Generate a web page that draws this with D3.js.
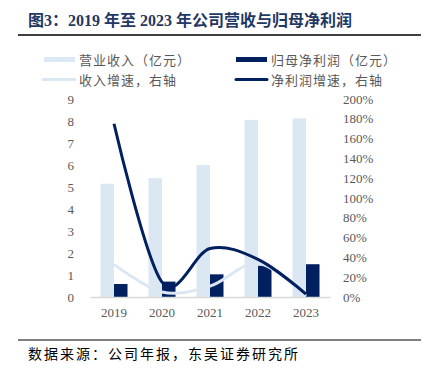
<!DOCTYPE html>
<html><head><meta charset="utf-8">
<script src="https://cdn.jsdelivr.net/npm/d3@7"></script>
<style>body{margin:0;background:#fff}svg{display:block}</style>
</head><body>
<svg id="c" width="435" height="368"></svg>
<script>
const years = ["2019","2020","2021","2022","2023"];
const revenue = [5.15, 5.4, 6.0, 8.05, 8.12];
const netProfit = [0.59, 0.70, 1.03, 1.42, 1.49];
const revenueGrowth = [33, 5, 11, 34, 1];
const profitGrowth = [175, 15, 49, 38, 3];
const leftTicks = [0,1,2,3,4,5,6,7,8,9];
const rightTicks = [0,20,40,60,80,100,120,140,160,180,200];
const titleText = "图3：2019 年至 2023 年公司营收与归母净利润";
const sourceText = "数据来源：公司年报，东吴证券研究所";
const legendLabels = ["营业收入（亿元）","归母净利润（亿元）","收入增速，右轴","净利润增速，右轴"];

const svg = d3.select("#c");
const cLight = "#dce7f4", cNavy = "#00205f", cGray = "#595959";
const serif = "'Liberation Serif','DejaVu Serif',serif";
const cjk = "'Noto Sans CJK SC','Noto Sans',sans-serif";

const x = d3.scaleBand().domain(years).range([90, 330]).padding(0);
const yL = d3.scaleLinear().domain([0, 9]).range([297, 99]);
const yR = d3.scaleLinear().domain([0, 200]).range([297, 99]);
const bw = 13.5;

// title
svg.append("text").attr("x", 28).attr("y", 26)
  .attr("font-family", "'Liberation Serif','Noto Sans CJK SC',serif")
  .attr("font-weight", "bold").attr("font-size", 16).attr("fill", "#1f3864")
  .text(titleText);
svg.append("line").attr("x1", 18).attr("x2", 421).attr("y1", 35).attr("y2", 35)
  .attr("stroke", "#000").attr("stroke-width", 1.5);

// legend
const lg = svg.append("g").attr("font-family", cjk).attr("font-size", 13).attr("fill", cGray);
lg.append("rect").attr("x", 44).attr("y", 57).attr("width", 31).attr("height", 5).attr("fill", cLight);
lg.append("rect").attr("x", 236).attr("y", 57).attr("width", 31).attr("height", 5).attr("fill", cNavy);
lg.append("line").attr("x1", 43).attr("x2", 75).attr("y1", 79.5).attr("y2", 79.5).attr("stroke", cLight).attr("stroke-width", 3).attr("stroke-linecap","round");
lg.append("line").attr("x1", 236).attr("x2", 267).attr("y1", 79.5).attr("y2", 79.5).attr("stroke", cNavy).attr("stroke-width", 3).attr("stroke-linecap","round");
const lpos = [[79,64.5],[271,64.5],[79,84.5],[271,84.5]];
legendLabels.forEach((t,i)=>{
  lg.append("text").attr("x", lpos[i][0]).attr("y", lpos[i][1]).attr("letter-spacing", 1).text(t);
});

// axes
const axL = svg.append("g").attr("transform", "translate(90,0)")
  .call(d3.axisLeft(yL).tickValues(leftTicks).tickSize(0).tickPadding(16).tickFormat(d3.format("d")));
const axR = svg.append("g").attr("transform", "translate(330,0)")
  .call(d3.axisRight(yR).tickValues(rightTicks).tickSize(0).tickPadding(13).tickFormat(d => d + "%"));
[axL, axR].forEach(a => {
  a.select(".domain").remove();
  a.selectAll("text").attr("font-family", serif).attr("font-size", 13).attr("fill", cGray);
});

// bars
svg.append("g").selectAll("rect").data(years).join("rect")
  .attr("x", (d) => x(d) + x.bandwidth()/2 - bw)
  .attr("y", (d,i) => yL(revenue[i]))
  .attr("width", bw).attr("height", (d,i) => yL(0) - yL(revenue[i]))
  .attr("fill", cLight);
svg.append("g").selectAll("rect").data(years).join("rect")
  .attr("x", (d) => x(d) + x.bandwidth()/2)
  .attr("y", (d,i) => yL(netProfit[i]))
  .attr("width", bw).attr("height", (d,i) => yL(0) - yL(netProfit[i]))
  .attr("fill", cNavy);

// x axis
const axB = svg.append("g").attr("transform", "translate(0,297)")
  .call(d3.axisBottom(x).tickSize(0).tickPadding(11));
axB.select(".domain").attr("stroke", "#d9d9d9").attr("stroke-width", 1.5);
axB.selectAll("text").attr("font-family", serif).attr("font-size", 13).attr("fill", cGray);

// lines
const line = (arr) => d3.line()
  .x((d,i) => x(years[i]) + x.bandwidth()/2)
  .y(d => yR(d))
  .curve(d3.curveCatmullRom.alpha(0))(arr);
svg.append("path").attr("d", line(revenueGrowth)).attr("fill", "none")
  .attr("stroke", cLight).attr("stroke-width", 3);
svg.append("path").attr("d", line(profitGrowth)).attr("fill", "none")
  .attr("stroke", cNavy).attr("stroke-width", 3);

// footer
svg.append("line").attr("x1", 18).attr("x2", 421).attr("y1", 340).attr("y2", 340)
  .attr("stroke", "#000").attr("stroke-width", 1.2);
svg.append("text").attr("x", 28).attr("y", 359).attr("font-family", cjk)
  .attr("font-size", 14).attr("letter-spacing", 2).attr("fill", "#000").text(sourceText);
</script>
</body></html>
